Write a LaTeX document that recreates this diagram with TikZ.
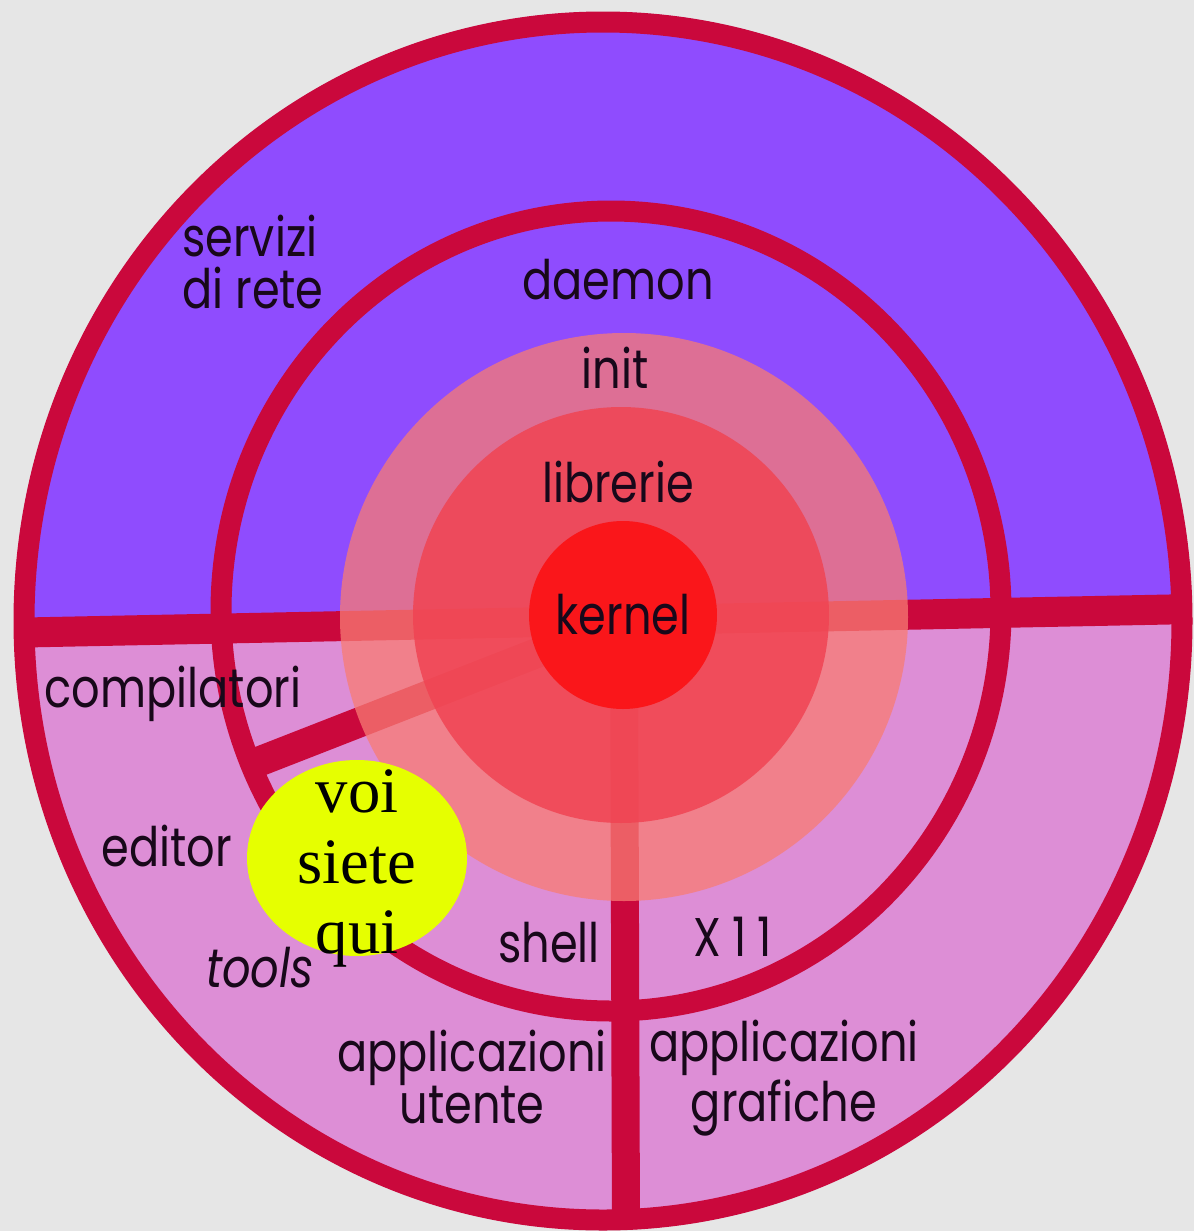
\documentclass[tikz,border=0pt]{standalone}
\usepackage{fontspec}
\setmainfont{Poppins}[FakeStretch=0.82]
\newfontfamily\serifvoi{Liberation Serif}
\usepackage{tikz}
\usetikzlibrary{shapes.geometric, positioning}

\definecolor{bgGray}{RGB}{230,230,230}
\definecolor{netPurple}{RGB}{143,76,254}
\definecolor{appPink}{RGB}{221,142,214}
\definecolor{ringRed}{RGB}{202,8,60}
\definecolor{initPink}{RGB}{248,124,115}
\definecolor{libRed}{RGB}{240,68,83}
\definecolor{kernRed}{RGB}{250,22,26}
\definecolor{youYellow}{RGB}{230,255,0}
\definecolor{inkDark}{RGB}{24,8,26}

\begin{document}
\begin{tikzpicture}[
    x=0.1mm, y=-0.1mm,
    every node/.style={font=\fontsize{15.5}{14.8}\selectfont, text=inkDark, inner sep=0pt},
    lbl/.style={align=center},
    disc/.style={circle, minimum size=#1},
    ring/.style={draw=ringRed, line width=2.1mm},
    bar/.style={draw=ringRed, line width=3mm},
    youtag/.style={font=\serifvoi\fontsize{18.4}{20}\selectfont, text=black, align=center}
]
\useasboundingbox (0,0) rectangle (1194,1231);
\fill[bgGray] (0,0) rectangle (1194,1231);

% spokes
\coordinate (hub) at (624,619);
\coordinate (westEnd) at (0,633);
\coordinate (eastEnd) at (1194,609);
\coordinate (southEnd) at (626,1231);
\coordinate (toolsEnd) at (245,767);

% outer disc: network services above, applications below
\begin{scope}
  \clip (603,621) ellipse [x radius=589, y radius=609];
  \fill[netPurple] (0,0) -- (1194,0) -- (eastEnd) -- (westEnd) -- cycle;
  \fill[appPink] (westEnd) -- (eastEnd) -- (1194,1231) -- (0,1231) -- cycle;
  \draw[ring] (611,611) ellipse [x radius=390, y radius=400];
  \draw[bar] (westEnd) -- (eastEnd);
  \draw[bar, line width=2.8mm] (hub) -- (southEnd);
  \draw[bar] (hub) -- (toolsEnd);
\end{scope}
\draw[ring] (603,621) ellipse [x radius=579, y radius=599];

% inner layers
\node[disc=56.8mm, fill=initPink, fill opacity=0.75] (initdisc) at (624,617) {};
\node[disc=41.6mm, fill=libRed, fill opacity=0.85] (libdisc) at (621,615) {};
\node[disc=18.8mm, fill=kernRed] (kernel) at (623,615) {kernel};

% labels
\node[lbl, align=left] (servizi) at (253,262) {servizi\\di rete};
\node (daemon) at (618,280) {daemon};
\node (init) at (615,368) {init};
\node (librerie) at (618,482) {librerie};
\node (compilatori) at (173,694) {compilatori};
\node (editor) at (167,846) {editor};
\node[font=\fontsize{15.5}{14.8}\selectfont\itshape] (tools) at (260,968) {tools};
\node (shell) at (549,943) {shell};
\node[font=\fontsize{15.5}{14.8}\selectfont\addfontfeature{LetterSpace=20}] (xorg) at (733,937) {X11};
\node[lbl] (apputente) at (472,1077) {applicazioni\\utente};
\node[lbl] (appgrafiche) at (784,1078) {applicazioni\\grafiche};

% you are here
\node[ellipse, fill=youYellow, minimum width=22mm, minimum height=19.6mm] (here) at (357,858) {};
\node[youtag] (heretext) at ([yshift=-3pt]here.center) {voi\\siete\\qui};
\end{tikzpicture}
\end{document}
